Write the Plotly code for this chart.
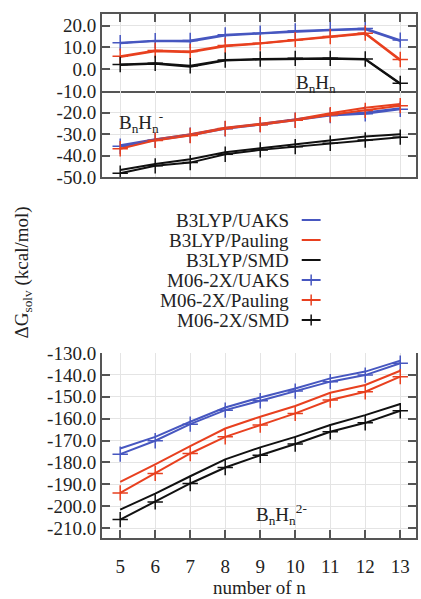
import plotly.graph_objects as go
from plotly.subplots import make_subplots

n_values = [5, 6, 7, 8, 9, 10, 11, 12, 13]
series_names = ["B3LYP/UAKS", "B3LYP/Pauling", "B3LYP/SMD",
                "M06-2X/UAKS", "M06-2X/Pauling", "M06-2X/SMD"]

# BnHn (neutral)
bnhn_b3lyp_uaks = [12.0, 13.0, 12.8, 15.5, 16.4, 17.3, 17.9, 18.4, 13.0]
bnhn_b3lyp_pauling = [5.6, 8.3, 7.8, 10.6, 11.8, 13.3, 14.8, 16.3, 4.0]
bnhn_b3lyp_smd = [2.0, 2.5, 1.2, 4.0, 4.5, 4.8, 4.8, 4.5, -6.8]
bnhn_m06_uaks = [12.2, 13.1, 13.2, 15.8, 16.6, 17.6, 18.2, 18.7, 13.4]
bnhn_m06_pauling = [6.0, 8.6, 8.2, 10.9, 12.0, 13.6, 15.0, 16.6, 4.5]
bnhn_m06_smd = [2.2, 2.7, 1.6, 4.2, 4.7, 5.0, 5.0, 4.7, -6.5]

# BnHn- (anion)
bnhn1_b3lyp_uaks = [-35.2, -32.4, -30.2, -27.2, -25.3, -23.3, -21.0, -20.0, -18.0]
bnhn1_b3lyp_pauling = [-36.0, -32.5, -30.0, -27.0, -25.2, -23.2, -20.3, -17.8, -16.0]
bnhn1_b3lyp_smd = [-46.6, -43.8, -41.6, -38.4, -36.5, -34.7, -33.0, -31.1, -30.1]
bnhn1_m06_uaks = [-35.6, -32.8, -30.5, -27.5, -25.6, -23.5, -21.4, -20.6, -18.5]
bnhn1_m06_pauling = [-36.8, -32.9, -30.6, -27.4, -25.6, -23.6, -21.0, -19.0, -16.8]
bnhn1_m06_smd = [-48.1, -44.7, -43.2, -39.3, -37.3, -35.8, -34.2, -32.7, -31.4]

# BnHn2- (dianion)
bnhn2_b3lyp_uaks = [-173.6, -168.3, -161.4, -154.9, -150.3, -146.2, -141.6, -138.5, -133.5]
bnhn2_b3lyp_pauling = [-188.9, -180.9, -172.5, -164.5, -159.1, -154.2, -148.2, -144.6, -138.1]
bnhn2_b3lyp_smd = [-201.5, -194.2, -186.3, -178.6, -173.1, -168.3, -162.9, -158.4, -153.3]
bnhn2_m06_uaks = [-176.2, -170.1, -162.5, -156.1, -151.8, -147.4, -143.1, -140.1, -134.7]
bnhn2_m06_pauling = [-193.9, -185.0, -175.9, -168.3, -162.9, -157.6, -151.5, -147.7, -140.8]
bnhn2_m06_smd = [-206.1, -198.0, -189.6, -182.3, -176.7, -171.6, -166.0, -161.9, -156.4]

panels = [
    (1, [bnhn_b3lyp_uaks, bnhn_b3lyp_pauling, bnhn_b3lyp_smd,
         bnhn_m06_uaks, bnhn_m06_pauling, bnhn_m06_smd]),
    (2, [bnhn1_b3lyp_uaks, bnhn1_b3lyp_pauling, bnhn1_b3lyp_smd,
         bnhn1_m06_uaks, bnhn1_m06_pauling, bnhn1_m06_smd]),
    (4, [bnhn2_b3lyp_uaks, bnhn2_b3lyp_pauling, bnhn2_b3lyp_smd,
         bnhn2_m06_uaks, bnhn2_m06_pauling, bnhn2_m06_smd]),
]

BLUE = "#4757c0"
RED = "#e8401f"
BLACK = "#111111"
colors = [BLUE, RED, BLACK, BLUE, RED, BLACK]
FRAME = "#555555"
GRID = "#e4e4e4"
FONT = "Liberation Serif"
TXT = "#222222"

fig = make_subplots(rows=4, cols=1, vertical_spacing=0)

for row, data in panels:
    for i, ys in enumerate(data):
        is_m06 = i >= 3
        fig.add_trace(go.Scatter(
            x=n_values, y=ys, name=series_names[i], showlegend=False,
            mode="lines+markers" if is_m06 else "lines",
            line=dict(color=colors[i], width=2),
            marker=dict(symbol="cross-thin", size=11,
                        line=dict(color=colors[i], width=1.5)),
        ), row=row, col=1)

# domains (paper fractions, bottom=0)
domains = {1: [0.8531, 1.0], 2: [0.6884, 0.8531], 3: [0.3531, 0.6884], 4: [0.0, 0.3531]}
yranges = {1: [-10, 25.4], 2: [-50, -10], 3: [0, 1], 4: [-214.5, -130]}
yticks = {1: [-10, 0, 10, 20], 2: [-50, -40, -30, -20], 3: [],
          4: [-210, -200, -190, -180, -170, -160, -150, -140, -130]}

for r in range(1, 5):
    sfx = "" if r == 1 else str(r)
    fig.layout["yaxis" + sfx].update(
        domain=domains[r], range=yranges[r], tickvals=yticks[r],
        ticktext=[f"{v:.1f}" for v in yticks[r]],
        showgrid=(r != 3), gridcolor=GRID, gridwidth=1, zeroline=False,
        showline=True, linecolor=FRAME, linewidth=2,
        mirror="ticks" if r != 3 else True,
        ticks="inside" if r != 3 else "", ticklen=8, tickwidth=1.5, tickcolor=FRAME,
        showticklabels=(r != 3),
        tickfont=dict(family=FONT, size=19, color=TXT),
    )
    xa = dict(
        range=[4.48, 13.45], tickvals=n_values, showgrid=True, gridcolor=GRID,
        gridwidth=1, zeroline=False, showline=True, linecolor=FRAME, linewidth=2,
        mirror=False, showticklabels=False, ticks="",
        tickfont=dict(family=FONT, size=19, color=TXT),
    )
    if r == 1:
        xa.update(side="top", mirror=True, ticks="inside", ticklen=8, tickwidth=1.5,
                  tickcolor=FRAME)
    if r == 4:
        xa.update(ticks="inside", ticklen=8, tickwidth=1.5, tickcolor=FRAME,
                  showticklabels=True, ticklabelstandoff=10)
    fig.layout["xaxis" + sfx].update(**xa)


def note(text, x, y, **kw):
    d = dict(text=text, x=x, y=y, xref="paper", yref="paper", showarrow=False,
             xanchor="center", yanchor="middle",
             font=dict(family=FONT, size=19, color=TXT))
    d.update(kw)
    return d


annotations = [
    note("B<sub>n</sub>H<sub>n</sub>", 0.680, 0.866),
    note("B<sub>n</sub>H<sub>n</sub><sup>-</sup>", 0.125, 0.793),
    note("B<sub>n</sub>H<sub>n</sub><sup>2-</sup>", 0.573, 0.045),
    note("ΔG<sub>solv</sub> (kcal/mol)", -0.253, 0.506, textangle=-90),
    note("number of n", 0.50, -0.095),
]

# legend (text right-aligned, key on the right)
shapes = []
leg_x_text = 0.601
key_x0, key_x1 = (303 - 102) / 316, (322 - 102) / 316
key_xc = (key_x0 + key_x1) / 2
for i, name in enumerate(series_names):
    ypx = 220 + 20 * i
    yp = (538 - ypx) / 524
    annotations.append(note(name, leg_x_text, yp, xanchor="right"))
    shapes.append(dict(type="line", xref="paper", yref="paper", x0=key_x0, x1=key_x1,
                       y0=yp, y1=yp, line=dict(color=colors[i], width=2)))
    if i >= 3:
        shapes.append(dict(type="line", xref="paper", yref="paper", x0=key_xc, x1=key_xc,
                           y0=yp - 5.5 / 524, y1=yp + 5.5 / 524,
                           line=dict(color=colors[i], width=1.5)))

fig.update_layout(
    width=421, height=599, margin=dict(l=102, r=3, t=14, b=61),
    paper_bgcolor="white", plot_bgcolor="white",
    annotations=annotations, shapes=shapes, showlegend=False,
    font=dict(family=FONT, size=19, color=TXT),
)

fig.write_html("out.html")
